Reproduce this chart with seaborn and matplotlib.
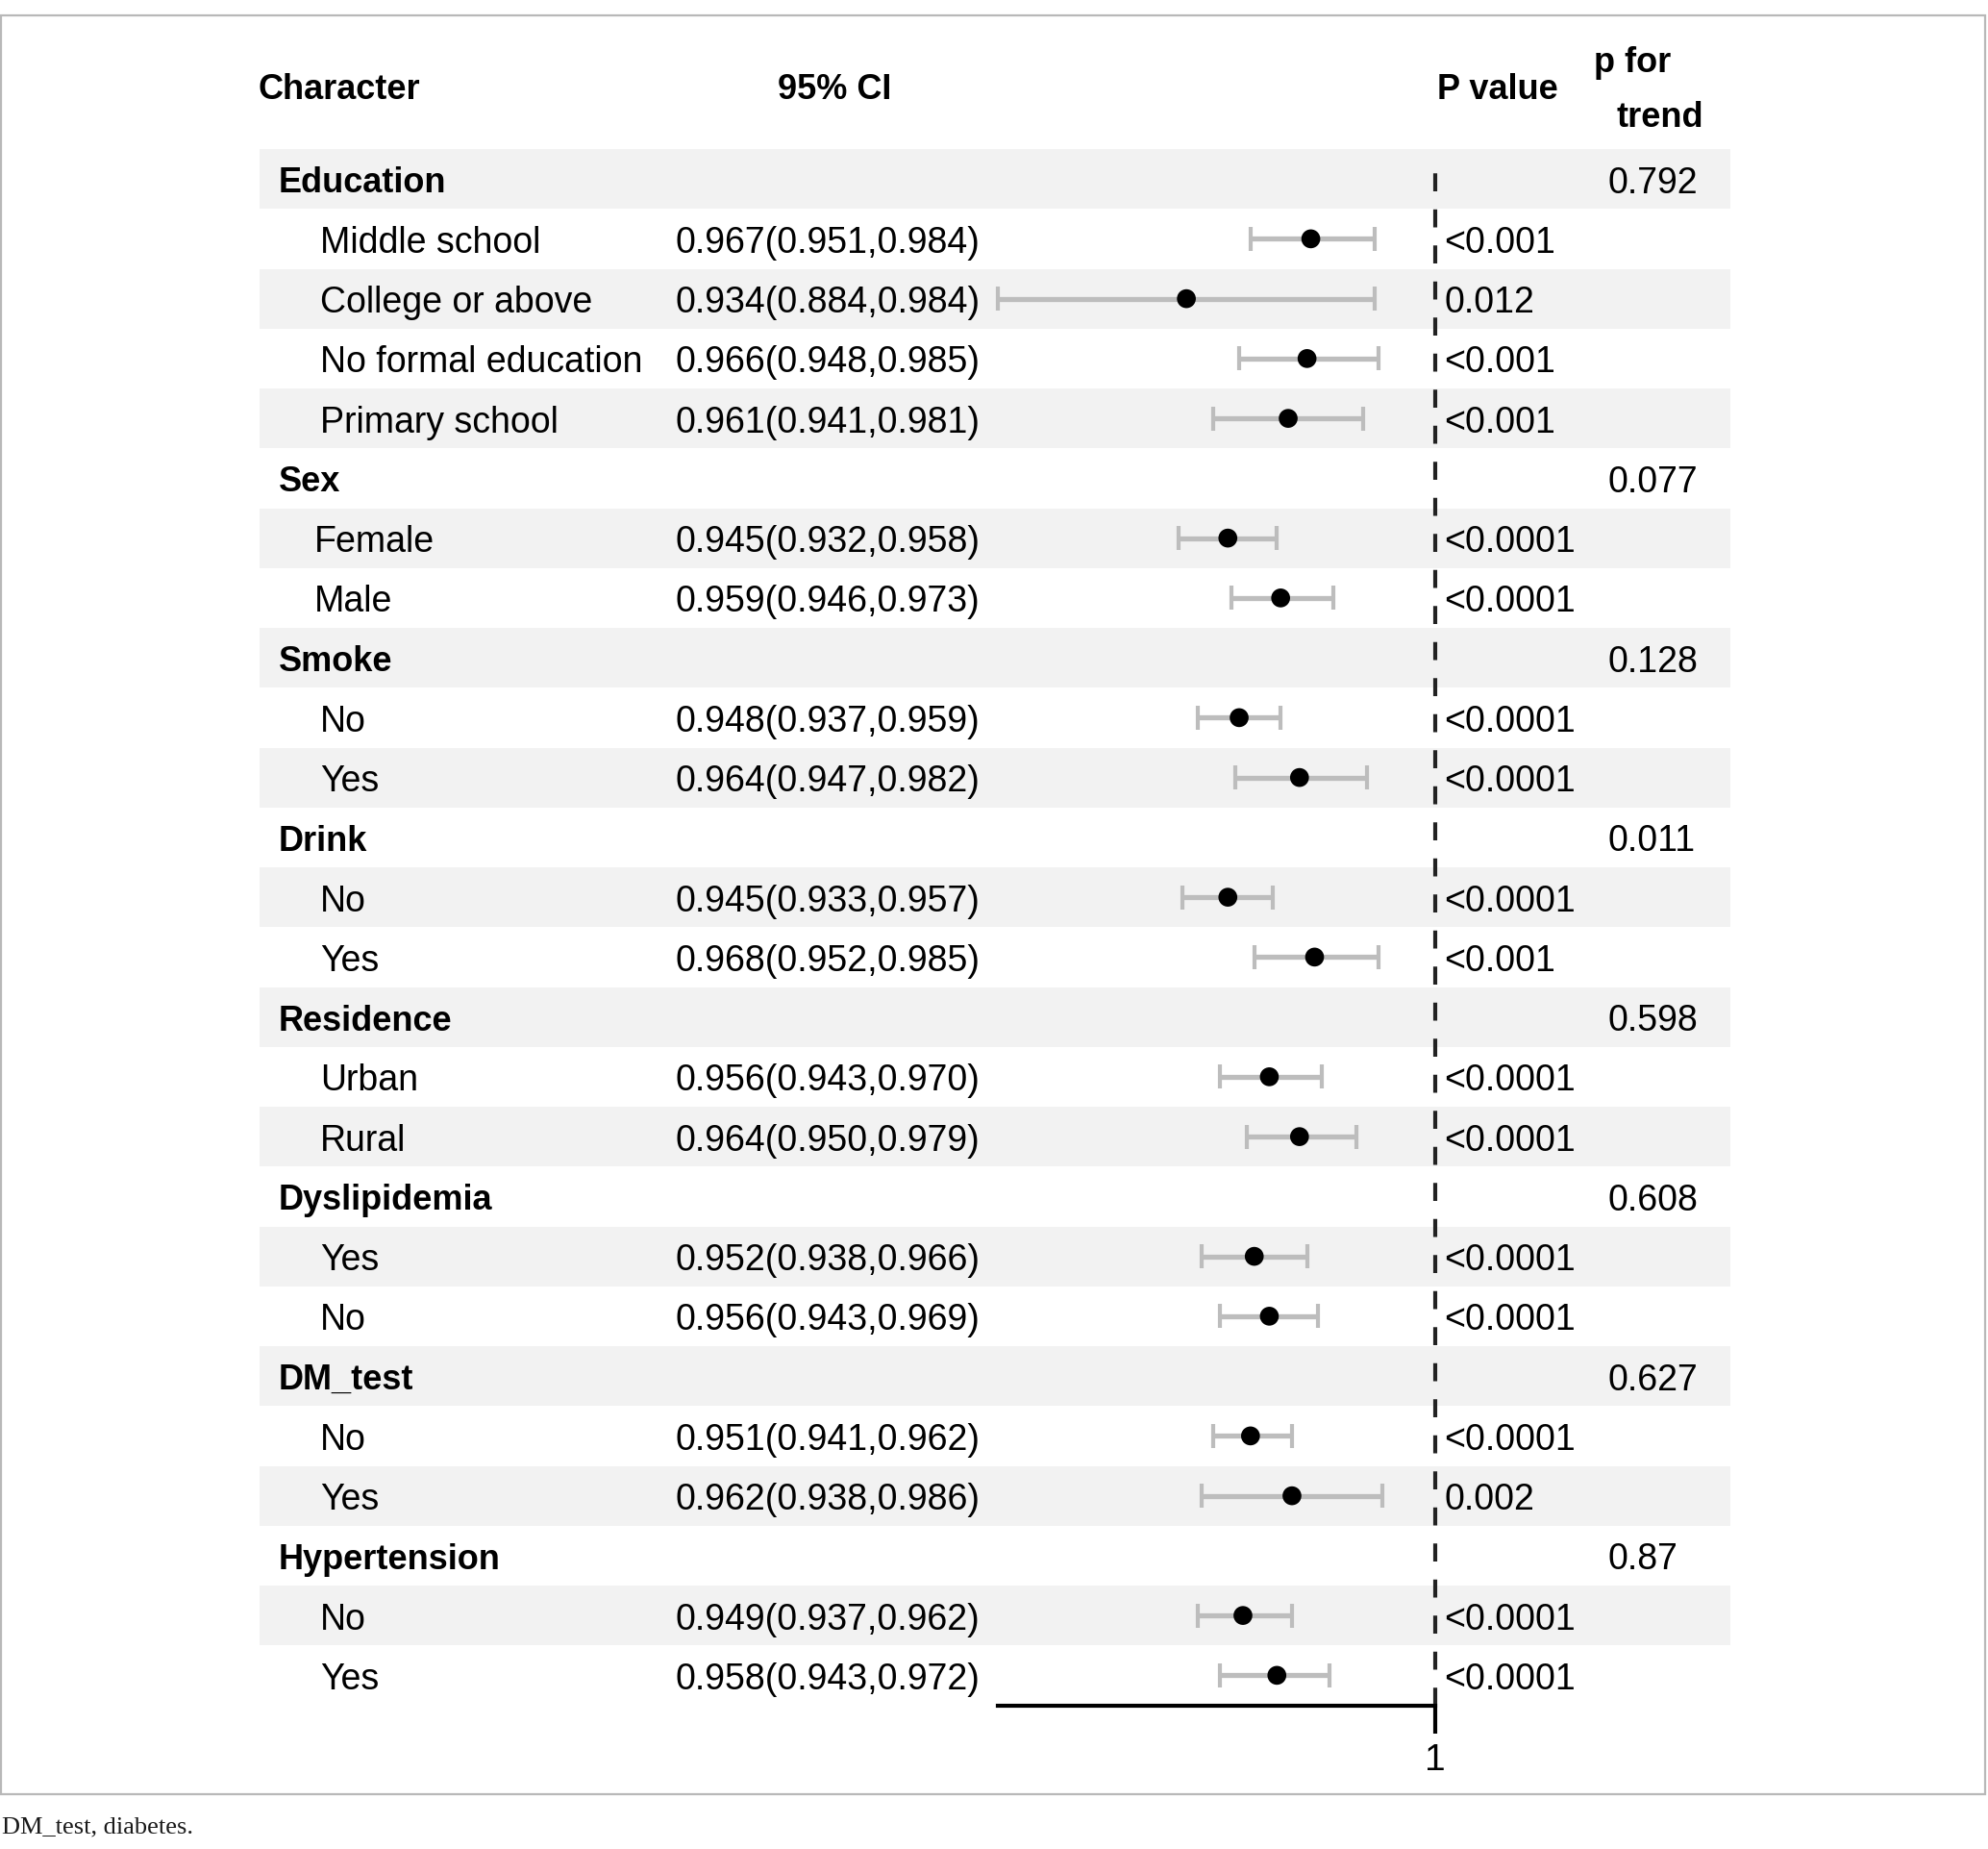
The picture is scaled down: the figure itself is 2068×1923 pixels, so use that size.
import matplotlib
matplotlib.use("Agg")
import matplotlib.pyplot as plt
from matplotlib.patches import Rectangle
import seaborn as sns
import pandas as pd

# ---------------- data ----------------
groups = ["Education", "Sex", "Smoke", "Drink", "Residence",
          "Dyslipidemia", "DM_test", "Hypertension"]
subgroups = [
    ["Middle school", "College or above", "No formal education", "Primary school"],
    ["Female", "Male"],
    ["No", "Yes"],
    ["No", "Yes"],
    ["Urban", "Rural"],
    ["Yes", "No"],
    ["No", "Yes"],
    ["No", "Yes"],
]
estimates = [0.967, 0.934, 0.966, 0.961, 0.945, 0.959, 0.948, 0.964, 0.945,
             0.968, 0.956, 0.964, 0.952, 0.956, 0.951, 0.962, 0.949, 0.958]
lower = [0.951, 0.884, 0.948, 0.941, 0.932, 0.946, 0.937, 0.947, 0.933,
         0.952, 0.943, 0.950, 0.938, 0.943, 0.941, 0.938, 0.937, 0.943]
upper = [0.984, 0.984, 0.985, 0.981, 0.958, 0.973, 0.959, 0.982, 0.957,
         0.985, 0.970, 0.979, 0.966, 0.969, 0.962, 0.986, 0.962, 0.972]
p_values = ["<0.001", "0.012", "<0.001", "<0.001", "<0.0001", "<0.0001",
            "<0.0001", "<0.0001", "<0.0001", "<0.001", "<0.0001", "<0.0001",
            "<0.0001", "<0.0001", "<0.0001", "0.002", "<0.0001", "<0.0001"]
p_trend = ["0.792", "0.077", "0.128", "0.011", "0.598", "0.608", "0.627", "0.87"]
x_ticks = [1]
x_limits = (0.884, 1.0)

# ---------------- build row table ----------------
rows = []
k = 0
for g, subs, pt in zip(groups, subgroups, p_trend):
    rows.append(dict(label=g, header=True, est=None, lo=None, hi=None, p="", trend=pt))
    for s in subs:
        rows.append(dict(label=s, header=False, est=estimates[k], lo=lower[k],
                         hi=upper[k], p=p_values[k], trend=""))
        k += 1
df = pd.DataFrame(rows)
df["row"] = range(len(df))
pts = df[~df["header"]].copy()
pts["ci"] = [f"{e:.3f}({l:.3f},{h:.3f})" for e, l, h in zip(pts["est"], pts["lo"], pts["hi"])]

# ---------------- figure ----------------
sns.set_theme(style="white")
plt.rcParams["font.family"] = ["Liberation Sans", "DejaVu Sans"]
plt.rcParams["text.color"] = "black"
plt.rcParams["xtick.color"] = "black"
plt.rcParams["axes.labelcolor"] = "black"

W, H = 2068, 1924
fig = plt.figure(figsize=(W / 100, H / 100), dpi=100)
fig.patch.set_facecolor("white")

TOP = 156.0
ROWH = 62.25
NROW = len(df)
BOTTOM = TOP + ROWH * NROW
X0, X1 = 1038.0, 1493.0

ax_bg = fig.add_axes([0, 0, 1, 1])
ax_bg.set_xlim(0, W)
ax_bg.set_ylim(H, 0)
ax_bg.axis("off")

# outer frame
ax_bg.add_patch(Rectangle((1, 17), 2064, 1850, fill=False, edgecolor="#b8b8b8", lw=1.6))

# zebra bands
for i in range(NROW):
    if i % 2 == 0:
        ax_bg.add_patch(Rectangle((270, TOP + i * ROWH), 1530, ROWH,
                                  facecolor="#f2f2f2", edgecolor="none", zorder=0))

REG = 27
BOLD = 26
cap_reg = REG / 72 * 100 * 0.716 / 2
cap_bold = BOLD / 72 * 100 * 0.716 / 2

# headers
ax_bg.text(269, 103, "Character", fontsize=BOLD, fontweight="bold", va="baseline", ha="left")
ax_bg.text(868, 103, "95% CI", fontsize=BOLD, fontweight="bold", va="baseline", ha="center")
ax_bg.text(1495, 103, "P value", fontsize=BOLD, fontweight="bold", va="baseline", ha="left")
ax_bg.text(1658, 75, "p for", fontsize=BOLD, fontweight="bold", va="baseline", ha="left")
ax_bg.text(1682, 132, "trend", fontsize=BOLD, fontweight="bold", va="baseline", ha="left")

indent = {"Female": 327, "Male": 327}
for _, r in df.iterrows():
    yc = TOP + ROWH * (r["row"] + 0.5)
    if r["header"]:
        ax_bg.text(290, yc + cap_bold, r["label"], fontsize=BOLD, fontweight="bold",
                   va="baseline", ha="left")
        ax_bg.text(1673, yc + cap_reg, r["trend"], fontsize=REG, va="baseline", ha="left")
    else:
        ax_bg.text(indent.get(r["label"], 333), yc + cap_reg, r["label"], fontsize=REG,
                   va="baseline", ha="left")
for _, r in pts.iterrows():
    yc = TOP + ROWH * (r["row"] + 0.5)
    ax_bg.text(703, yc + cap_reg, r["ci"], fontsize=REG, va="baseline", ha="left")
    ax_bg.text(1502, yc + cap_reg, r["p"], fontsize=REG, va="baseline", ha="left")

# caption
ax_bg.text(2, 1900, "DM_test, diabetes.", fontsize=19, family=["Liberation Serif", "DejaVu Serif"],
           va="center", ha="left", color="#1a1a1a")

# ---------------- forest axes ----------------
fa = fig.add_axes([X0 / W, (H - BOTTOM) / H, (X1 - X0) / W, (BOTTOM - TOP) / H])
fa.patch.set_alpha(0)
fa.set_xlim(*x_limits)
fa.set_ylim(NROW - 0.5, -0.5)

fa.hlines(pts["row"], pts["lo"], pts["hi"], color="#bdbdbd", lw=3.8, zorder=2, clip_on=False)
fa.vlines(pts["lo"], pts["row"] - 0.2, pts["row"] + 0.2, color="#bdbdbd", lw=3.0, zorder=2, clip_on=False)
fa.vlines(pts["hi"], pts["row"] - 0.2, pts["row"] + 0.2, color="#bdbdbd", lw=3.0, zorder=2, clip_on=False)
sns.scatterplot(data=pts, x="est", y="row", ax=fa, color="black", s=200,
                edgecolor="none", zorder=3, legend=False, clip_on=False)

fa.axvline(1.0, ymin=0.0, ymax=0.988, color="#222222", lw=3.0,
           linestyle=(0, (4.5, 4.5)), zorder=1, clip_on=False)

for side in ["top", "right", "left"]:
    fa.spines[side].set_visible(False)
fa.spines["bottom"].set_color("black")
fa.spines["bottom"].set_linewidth(3.0)
fa.set_yticks([])
fa.set_xticks(x_ticks)
fa.set_xticklabels([str(t) for t in x_ticks])
fa.tick_params(axis="x", direction="out", length=21, width=3.0, color="black",
               labelsize=28, pad=7, bottom=True)
fa.set_xlabel("")
fa.set_ylabel("")

fig.savefig("out.png", dpi=100, facecolor="white")
